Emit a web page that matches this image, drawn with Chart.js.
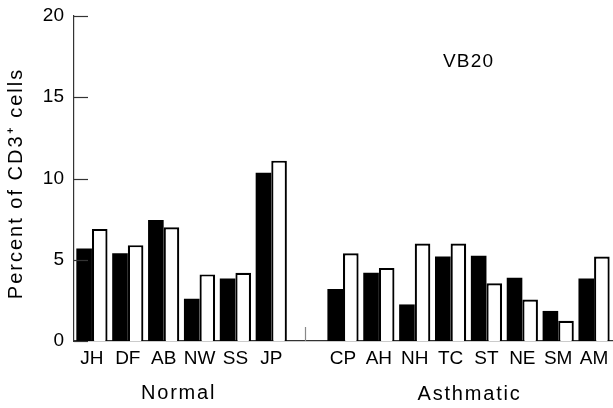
<!DOCTYPE html>
<html>
<head>
<meta charset="utf-8">
<script src="https://cdn.jsdelivr.net/npm/chart.js@4/dist/chart.umd.min.js"></script>
<style>
  html, body { margin: 0; padding: 0; background: #fff; }
  #wrap { width: 613px; height: 408px; position: relative; }
</style>
</head>
<body>
<div id="wrap"><canvas id="vb20-chart"></canvas></div>
<script>
// Subjects per group, gap category in between
const normalSubjects = ['JH', 'DF', 'AB', 'NW', 'SS', 'JP'];
const asthmaticSubjects = ['CP', 'AH', 'NH', 'TC', 'ST', 'NE', 'SM', 'AM'];
const categories = [...normalSubjects, '', ...asthmaticSubjects];

// Percent of CD3+ cells (solid = first sample, open = second sample)
const solidValues = [5.7, 5.4, 7.45, 2.6, 3.85, 10.35, null, 3.2, 4.2, 2.25, 5.2, 5.25, 3.9, 1.85, 3.85];
const openValues  = [6.9, 5.9, 7.0, 4.1, 4.2, 11.1, null, 5.4, 4.5, 6.0, 6.0, 3.55, 2.55, 1.25, 5.2];

const yTicks = [0, 5, 10, 15, 20];
const groupLabels = ['Normal', 'Asthmatic'];
const panelLabel = 'VB20';
const yTitle = 'Percent of CD3\u207A cells';

const FONT = "'Liberation Sans', Arial, Helvetica, sans-serif";
const AXIS_COLOR = '#333';
const TEXT_COLOR = '#000';

// draws inward y ticks, the gap tick, group names, panel label and y title
const decorations = {
  id: 'decorations',
  afterDraw(chart) {
    const ctx = chart.ctx;
    const area = chart.chartArea;
    const x = chart.scales.x;
    const y = chart.scales.y;

    ctx.save();
    ctx.strokeStyle = AXIS_COLOR;
    ctx.lineWidth = 1.2;
    yTicks.forEach(v => {
      const py = Math.round(y.getPixelForValue(v)) + 0.5;
      ctx.beginPath();
      ctx.moveTo(area.left, py);
      ctx.lineTo(area.left + 14, py);
      ctx.stroke();
    });

    // small tick marking the gap between the groups
    const gapIdx = normalSubjects.length;
    const gx = Math.round(x.getPixelForValue(gapIdx)) - 1.5;
    ctx.strokeStyle = '#888';
    ctx.beginPath();
    ctx.moveTo(gx, area.bottom);
    ctx.lineTo(gx, area.bottom - 14);
    ctx.stroke();

    ctx.fillStyle = TEXT_COLOR;
    ctx.textAlign = 'center';
    ctx.textBaseline = 'middle';
    ctx.font = '20px ' + FONT;
    ctx.letterSpacing = '1.8px';

    const normalMid = (x.getPixelForValue(0) + x.getPixelForValue(normalSubjects.length - 1)) / 2;
    const firstA = normalSubjects.length + 1;
    const asthMid = (x.getPixelForValue(firstA) + x.getPixelForValue(categories.length - 1)) / 2;
    ctx.fillText(groupLabels[0], normalMid - 3, area.bottom + 52);
    ctx.fillText(groupLabels[1], asthMid + 1, area.bottom + 53);

    ctx.font = '19px ' + FONT;
    ctx.letterSpacing = '1.2px';
    ctx.fillText(panelLabel, x.getPixelForValue(10.5), area.top + 46);

    // rotated y axis title
    ctx.font = '20px ' + FONT;
    ctx.letterSpacing = '2px';
    ctx.translate(16, (area.top + area.bottom) / 2 + 5);
    ctx.rotate(-Math.PI / 2);
    ctx.fillText(yTitle, 0, 0);
    ctx.restore();
  }
};

const ctx = document.getElementById('vb20-chart').getContext('2d');
new Chart(ctx, {
  type: 'bar',
  data: {
    labels: categories,
    datasets: [
      {
        label: 'solid',
        data: solidValues,
        backgroundColor: '#000',
        borderWidth: 0,
        barPercentage: 1.0,
        categoryPercentage: 0.87
      },
      {
        label: 'open',
        data: openValues,
        backgroundColor: '#fff',
        borderColor: '#000',
        borderWidth: 2.2,
        barPercentage: 1.0,
        categoryPercentage: 0.87
      }
    ]
  },
  options: {
    responsive: true,
    maintainAspectRatio: false,
    animation: false,
    layout: { padding: { top: 16, right: 1, left: 0, bottom: 0 } },
    plugins: {
      legend: { display: false },
      tooltip: { enabled: false },
      title: { display: false }
    },
    scales: {
      x: {
        grid: { display: false, drawTicks: false },
        border: { display: true, color: AXIS_COLOR, width: 1.2 },
        ticks: {
          color: TEXT_COLOR,
          font: { family: FONT, size: 19 },
          padding: 6,
          autoSkip: false,
          maxRotation: 0,
          minRotation: 0
        },
        afterFit(scale) {
          scale.height = 67;
          scale.paddingLeft = 0;
          scale.paddingRight = 0;
        }
      },
      y: {
        min: 0,
        max: 20,
        grid: { display: false, drawTicks: false },
        border: { display: true, color: AXIS_COLOR, width: 1.2 },
        ticks: {
          stepSize: 5,
          color: TEXT_COLOR,
          font: { family: FONT, size: 19 },
          padding: 10
        },
        afterFit(scale) {
          scale.width = 74;
          scale.paddingTop = 0;
          scale.paddingBottom = 0;
        }
      }
    }
  },
  plugins: [decorations]
});
</script>
</body>
</html>
